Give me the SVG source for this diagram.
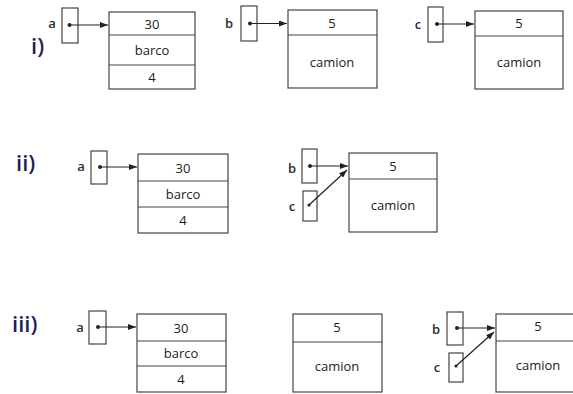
<svg xmlns="http://www.w3.org/2000/svg" width="573" height="394" viewBox="0 0 573 394">
<defs>
<marker id="ah" markerWidth="8" markerHeight="6" refX="8" refY="3" orient="auto" markerUnits="userSpaceOnUse">
<path d="M0,0 L8,3 L0,6 Z" fill="#222"/>
</marker>
<style>
.box{fill:#fff;stroke:#444;stroke-width:1.2}
.div{stroke:#444;stroke-width:1.2}
.t{font-family:"Open Sans","Liberation Sans",sans-serif;font-size:13px;fill:#222;text-anchor:middle;dominant-baseline:central}
.lbl{font-family:"Open Sans","Liberation Sans",sans-serif;font-size:13px;font-weight:600;fill:#2a2a3a;text-anchor:middle;dominant-baseline:central}
.num{font-family:"Open Sans","Liberation Sans",sans-serif;font-size:22px;font-weight:600;fill:#1f1f5a;dominant-baseline:central}
.dot{fill:#222}
.ar{stroke:#222;stroke-width:1.2;fill:none;marker-end:url(#ah)}
</style>
</defs>
<text class="num" x="31" y="45">i)</text>
<text class="num" x="16" y="162">ii)</text>
<text class="num" x="12" y="323">iii)</text>

<g id="row1-a">
<text class="lbl" x="52" y="23">a</text>
<rect class="box" x="62" y="8" width="16" height="35"/>
<circle class="dot" cx="69.5" cy="25" r="2"/>
</g>
<g id="row1-s1">
<rect class="box" x="109" y="12" width="86" height="77"/>
<line class="div" x1="109" y1="35" x2="195" y2="35"/>
<line class="div" x1="109" y1="65" x2="195" y2="65"/>
<text class="t" x="152" y="24">30</text>
<text class="t" x="152" y="50">barco</text>
<text class="t" x="152" y="77">4</text>
</g>
<g id="row1-b">
<text class="lbl" x="229" y="23">b</text>
<rect class="box" x="241" y="6" width="16" height="35"/>
<circle class="dot" cx="250" cy="23.5" r="2"/>
</g>
<g id="row1-s2">
<rect class="box" x="288" y="10" width="89" height="78"/>
<line class="div" x1="288" y1="35" x2="377" y2="35"/>
<text class="t" x="332" y="23">5</text>
<text class="t" x="332" y="62">camion</text>
</g>
<g id="row1-c">
<text class="lbl" x="418" y="24">c</text>
<rect class="box" x="428" y="7" width="15" height="35"/>
<circle class="dot" cx="437" cy="24" r="2"/>
</g>
<g id="row1-s3">
<rect class="box" x="475" y="11" width="88" height="78"/>
<line class="div" x1="475" y1="36" x2="563" y2="36"/>
<text class="t" x="519" y="23">5</text>
<text class="t" x="519" y="62">camion</text>
</g>

<g id="row2-a">
<text class="lbl" x="81" y="166">a</text>
<rect class="box" x="91" y="151" width="16" height="33"/>
<circle class="dot" cx="100" cy="167" r="2"/>
</g>
<g id="row2-s1">
<rect class="box" x="138" y="154" width="90" height="79"/>
<line class="div" x1="138" y1="181" x2="228" y2="181"/>
<line class="div" x1="138" y1="207" x2="228" y2="207"/>
<text class="t" x="183" y="168">30</text>
<text class="t" x="183" y="194">barco</text>
<text class="t" x="183" y="220">4</text>
</g>
<g id="row2-b">
<text class="lbl" x="292" y="168">b</text>
<rect class="box" x="302" y="149" width="15" height="34"/>
<circle class="dot" cx="310" cy="166" r="2"/>
</g>
<g id="row2-c">
<text class="lbl" x="292" y="206">c</text>
<rect class="box" x="303" y="191" width="14" height="30"/>
<circle class="dot" cx="309" cy="205" r="1.6"/>
</g>
<g id="row2-s2">
<rect class="box" x="349" y="153" width="88" height="79"/>
<line class="div" x1="349" y1="179" x2="437" y2="179"/>
<text class="t" x="393" y="166">5</text>
<text class="t" x="393" y="205">camion</text>
</g>

<g id="row3-a">
<text class="lbl" x="80" y="327">a</text>
<rect class="box" x="89" y="311" width="17" height="33"/>
<circle class="dot" cx="98" cy="327" r="2"/>
</g>
<g id="row3-s1">
<rect class="box" x="137" y="314" width="89" height="78"/>
<line class="div" x1="137" y1="341" x2="226" y2="341"/>
<line class="div" x1="137" y1="366" x2="226" y2="366"/>
<text class="t" x="181" y="328">30</text>
<text class="t" x="181" y="353">barco</text>
<text class="t" x="181" y="379">4</text>
</g>
<g id="row3-s2">
<rect class="box" x="293" y="314" width="89" height="78"/>
<line class="div" x1="293" y1="342" x2="382" y2="342"/>
<text class="t" x="337" y="327">5</text>
<text class="t" x="337" y="366">camion</text>
</g>
<g id="row3-b">
<text class="lbl" x="436" y="329">b</text>
<rect class="box" x="447" y="312" width="16" height="33"/>
<circle class="dot" cx="457" cy="328" r="2"/>
</g>
<g id="row3-c">
<text class="lbl" x="437" y="367">c</text>
<rect class="box" x="449" y="353" width="14" height="29"/>
<circle class="dot" cx="456" cy="366" r="1.6"/>
</g>
<g id="row3-s3">
<rect class="box" x="496" y="314" width="90" height="78"/>
<line class="div" x1="496" y1="341" x2="586" y2="341"/>
<text class="t" x="538" y="326">5</text>
<text class="t" x="538" y="365">camion</text>
</g>

<g id="connectors">
<line class="ar" x1="69.5" y1="25" x2="108" y2="25"/>
<line class="ar" x1="250" y1="23.5" x2="287" y2="23.5"/>
<line class="ar" x1="437" y1="24" x2="474" y2="24"/>
<line class="ar" x1="100" y1="167" x2="137" y2="167"/>
<line class="ar" x1="310" y1="166" x2="348" y2="166"/>
<line class="ar" x1="309" y1="205" x2="347" y2="170"/>
<line class="ar" x1="98" y1="327" x2="136" y2="327"/>
<line class="ar" x1="457" y1="328" x2="495" y2="328"/>
<line class="ar" x1="456" y1="366" x2="494" y2="332"/>
</g>
</svg>
